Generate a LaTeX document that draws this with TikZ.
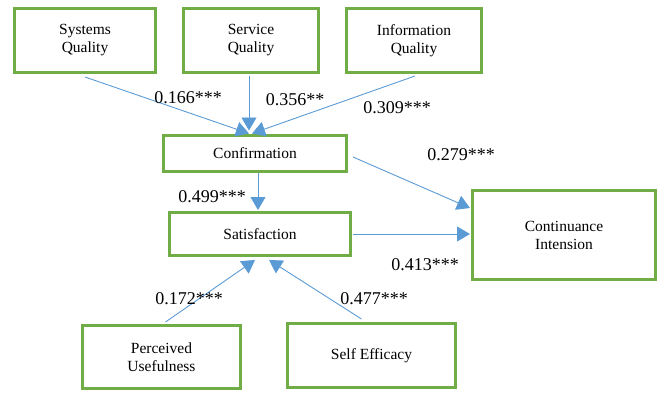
\documentclass[tikz,border=0pt]{standalone}
\usepackage{fontspec}
\setmainfont{Liberation Serif}
\usetikzlibrary{arrows.meta}
\definecolor{boxgreen}{RGB}{112,173,71}
\definecolor{linkblue}{RGB}{91,155,213}

\begin{document}
\begin{tikzpicture}[
		x=1pt,y=-1pt,
		var/.style={draw=boxgreen,line width=3pt,align=center,inner sep=0pt,
			font=\fontsize{15.5}{18}\selectfont},
		link/.style={draw=linkblue,line width=0.9pt,->},
		coef/.style={inner sep=0pt,font=\fontsize{18}{20}\selectfont},
		>={Triangle[length=13pt,width=15pt]}]
	\useasboundingbox (0,0) rectangle (662,392);
	%% antecedents
	\node[var,minimum width=141pt,minimum height=64pt] (sysq) at (85,40.5) {Systems\\Quality};
	\node[var,minimum width=135pt,minimum height=64pt] (servq) at (251,40.5) {Service\\Quality};
	\node[var,minimum width=135pt,minimum height=64pt] (infoq) at (414,40.5) {Information\\Quality};
	%% middle boxes
	\node[var,minimum width=183pt,minimum height=36pt] (conf) at (255,153) {Confirmation};
	\node[var,minimum width=181pt,minimum height=43pt] (satis) at (260,234) {Satisfaction};
	\node[var,minimum width=183pt,minimum height=89pt] (cont) at (564,235) {Continuance\\Intension};
	%% bottom boxes
	\node[var,minimum width=158pt,minimum height=63pt] (pu) at (161.5,357) {Perceived\\Usefulness};
	\node[var,minimum width=168pt,minimum height=64pt] (se) at (371.5,355.5) {Self Efficacy};
	%% paths
	\draw[link] ([yshift=-3pt]sysq.south) -- ([xshift=-6pt]conf.north);
	\draw[link] ([xshift=-2pt,yshift=-2pt]servq.south) -- ([xshift=-6pt,yshift=3pt]conf.north);
	\draw[link] ([xshift=1pt,yshift=-2pt]infoq.south) -- ([xshift=-3pt]conf.north);
	\draw[link] ([xshift=3pt]conf.south) -- ([xshift=-2pt,yshift=1pt]satis.north);
	\draw[link] ([xshift=5pt,yshift=-4pt]conf.east) -- ([xshift=-1pt,yshift=27pt]cont.west);
	\draw[link] ([xshift=1pt]satis.east) -- ([xshift=-1pt,yshift=1pt]cont.west);
	\draw[link] ([xshift=4pt,yshift=2pt]pu.north) -- ([xshift=-5pt,yshift=-3pt]satis.south);
	\draw[link] ([xshift=-10pt,yshift=3pt]se.north) -- ([xshift=9pt,yshift=-3pt]satis.south);
	%% coefficients
	\node[coef] (c1) at (188,98) {0.166***};
	\node[coef] (c2) at (295,100) {0.356**};
	\node[coef] (c3) at (397,108) {0.309***};
	\node[coef] (c4) at (461,155) {0.279***};
	\node[coef] (c5) at (212,197) {0.499***};
	\node[coef] (c6) at (425,265) {0.413***};
	\node[coef] (c7) at (189,299) {0.172***};
	\node[coef] (c8) at (374,299) {0.477***};
\end{tikzpicture}
\end{document}
